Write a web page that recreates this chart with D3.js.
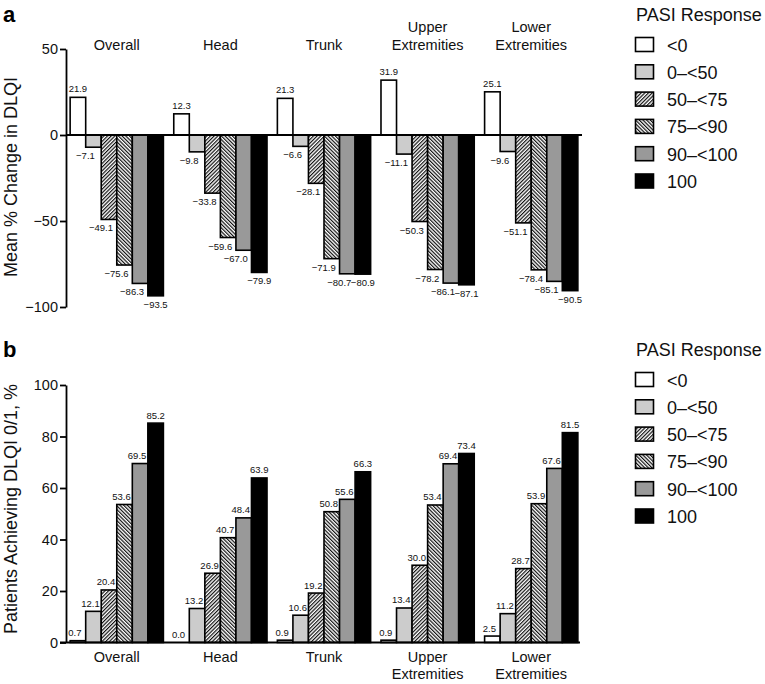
<!DOCTYPE html>
<html>
<head>
<meta charset="utf-8">
<script src="https://cdn.jsdelivr.net/npm/d3@7"></script>
<style>
  html, body { margin: 0; padding: 0; background: #fff; }
  svg { display: block; font-family: "Liberation Sans", Arial, Helvetica, sans-serif; }
</style>
</head>
<body>
<svg id="chart" width="765" height="684"></svg>
<script>
// ---------- data ----------
const categories = ["Overall", "Head", "Trunk", "Upper Extremities", "Lower Extremities"];
const categoryLines = [["Overall"], ["Head"], ["Trunk"], ["Upper", "Extremities"], ["Lower", "Extremities"]];
const responseGroups = ["<0", "0–<50", "50–<75", "75–<90", "90–<100", "100"];
const changeValues = [
  [21.9, -7.1, -49.1, -75.6, -86.3, -93.5],
  [12.3, -9.8, -33.8, -59.6, -67.0, -79.9],
  [21.3, -6.6, -28.1, -71.9, -80.7, -80.9],
  [31.9, -11.1, -50.3, -78.2, -86.1, -87.1],
  [25.1, -9.6, -51.1, -78.4, -85.1, -90.5]
];
const achieveValues = [
  [0.7, 12.1, 20.4, 53.6, 69.5, 85.2],
  [0.0, 13.2, 26.9, 40.7, 48.4, 63.9],
  [0.9, 10.6, 19.2, 50.8, 55.6, 66.3],
  [0.9, 13.4, 30.0, 53.4, 69.4, 73.4],
  [2.5, 11.2, 28.7, 53.9, 67.6, 81.5]
];
const changeTicks = [50, 0, -50, -100];
const achieveTicks = [0, 20, 40, 60, 80, 100];

// ---------- setup ----------
const svg = d3.select("#chart");
const defs = svg.append("defs");
function hatch(id, angle) {
  const p = defs.append("pattern").attr("id", id)
    .attr("patternUnits", "userSpaceOnUse").attr("width", 2.6).attr("height", 2.6)
    .attr("patternTransform", `rotate(${angle})`);
  p.append("rect").attr("width", 2.6).attr("height", 2.6).attr("fill", "#fff");
  p.append("line").attr("x1", 0.6).attr("y1", -1).attr("x2", 0.6).attr("y2", 4)
    .attr("stroke", "#111").attr("stroke-width", 1.2);
}
hatch("h1", 45);
hatch("h2", -45);
const fills = ["#ffffff", "#cccccc", "url(#h1)", "url(#h2)", "#999999", "#000000"];
const fmt = v => (v < 0 ? "\u2212" : "") + Math.abs(v).toFixed(1);

const x = d3.scaleBand().domain(categories).range([66, 582]).paddingInner(0.1).paddingOuter(0.04);
const xs = d3.scaleBand().domain(d3.range(responseGroups.length)).range([0, x.bandwidth()]);

function legend(top) {
  const g = svg.append("g").attr("transform", `translate(635,${top})`);
  g.append("text").attr("x", 1).attr("y", 0).attr("font-size", 18).attr("fill", "#111").text("PASI Response");
  responseGroups.forEach((r, i) => {
    const cy = 24 + i * 27.3;
    g.append("rect").attr("x", 0.5).attr("y", cy - 7.5).attr("width", 18).attr("height", 14)
      .attr("fill", fills[i]).attr("stroke", "#000").attr("stroke-width", 1.6);
    g.append("text").attr("x", 32).attr("y", cy + 6.5).attr("font-size", 18).attr("fill", "#111").text(r);
  });
}

// ---------- panel a ----------
const ya = d3.scaleLinear().domain([-100, 50]).range([307, 49]);
svg.append("text").attr("x", 3).attr("y", 22).attr("font-size", 22).attr("font-weight", "bold").text("a");
svg.append("text").attr("transform", `translate(17,177) rotate(-90)`).attr("text-anchor", "middle")
  .attr("font-size", 18).attr("fill", "#111").text("Mean % Change in DLQI");
const axA = svg.append("g").attr("transform", "translate(66,0)")
  .call(d3.axisLeft(ya).tickValues(changeTicks).tickSize(6).tickSizeOuter(0).tickFormat(d => (d < 0 ? "\u2212" : "") + Math.abs(d)));
axA.select(".domain").attr("stroke-width", 1.8);
axA.selectAll(".tick line").attr("stroke-width", 1.8);
axA.selectAll(".tick text").attr("font-size", 14.5).attr("font-family", "Liberation Sans, Arial, sans-serif").attr("fill", "#111").attr("x", -8);

categories.forEach((c, ci) => {
  const gx = x(c);
  categoryLines[ci].forEach((line, li, arr) => {
    svg.append("text").attr("x", gx + x.bandwidth() / 2).attr("y", 50 - (arr.length - 1 - li) * 18)
      .attr("text-anchor", "middle").attr("font-size", 14.5).attr("fill", "#111").text(line);
  });
  changeValues[ci].forEach((v, i) => {
    const bx = gx + xs(i);
    svg.append("rect").attr("x", bx).attr("width", xs.bandwidth())
      .attr("y", Math.min(ya(0), ya(v))).attr("height", Math.abs(ya(v) - ya(0)))
      .attr("fill", fills[i]).attr("stroke", "#000").attr("stroke-width", 1.6);
    const cx = bx + xs.bandwidth() / 2;
    if (v >= 0) {
      svg.append("text").attr("x", cx).attr("y", ya(v) - 5).attr("text-anchor", "middle")
        .attr("font-size", 9.5).attr("fill", "#111").text(fmt(v));
    } else {
      svg.append("text").attr("x", cx - (i < responseGroups.length - 1 ? 8 : 0)).attr("y", ya(v) + 12)
        .attr("text-anchor", "middle").attr("font-size", 9.5).attr("fill", "#111").text(fmt(v));
    }
  });
});
svg.append("line").attr("x1", 66).attr("x2", 582).attr("y1", ya(0)).attr("y2", ya(0))
  .attr("stroke", "#000").attr("stroke-width", 2);
legend(21);

// ---------- panel b ----------
const yb = d3.scaleLinear().domain([0, 100]).range([642.5, 385]);
svg.append("text").attr("x", 3).attr("y", 357).attr("font-size", 22).attr("font-weight", "bold").text("b");
svg.append("text").attr("transform", `translate(17,509) rotate(-90)`).attr("text-anchor", "middle")
  .attr("font-size", 18).attr("fill", "#111").text("Patients Achieving DLQI 0/1, %");
const axB = svg.append("g").attr("transform", "translate(66,0)")
  .call(d3.axisLeft(yb).tickValues(achieveTicks).tickSize(6).tickSizeOuter(0));
axB.select(".domain").attr("stroke-width", 1.8);
axB.selectAll(".tick line").attr("stroke-width", 1.8);
axB.selectAll(".tick text").attr("font-size", 14.5).attr("font-family", "Liberation Sans, Arial, sans-serif").attr("fill", "#111").attr("x", -8);

categories.forEach((c, ci) => {
  const gx = x(c);
  categoryLines[ci].forEach((line, li) => {
    svg.append("text").attr("x", gx + x.bandwidth() / 2).attr("y", 662 + li * 16.5)
      .attr("text-anchor", "middle").attr("font-size", 14.5).attr("fill", "#111").text(line);
  });
  achieveValues[ci].forEach((v, i) => {
    const bx = gx + xs(i);
    if (v > 0) {
      svg.append("rect").attr("x", bx).attr("width", xs.bandwidth())
        .attr("y", yb(v)).attr("height", yb(0) - yb(v))
        .attr("fill", fills[i]).attr("stroke", "#000").attr("stroke-width", 1.6);
    }
    const cx = bx + xs.bandwidth() / 2;
    svg.append("text").attr("x", cx - (i < responseGroups.length - 1 ? 3 : 0)).attr("y", yb(v) - 4.5)
      .attr("text-anchor", "middle").attr("font-size", 9.5).attr("fill", "#111").text(fmt(v));
  });
});
svg.append("line").attr("x1", 60).attr("x2", 580).attr("y1", yb(0)).attr("y2", yb(0))
  .attr("stroke", "#000").attr("stroke-width", 2);
legend(356);
</script>
</body>
</html>
